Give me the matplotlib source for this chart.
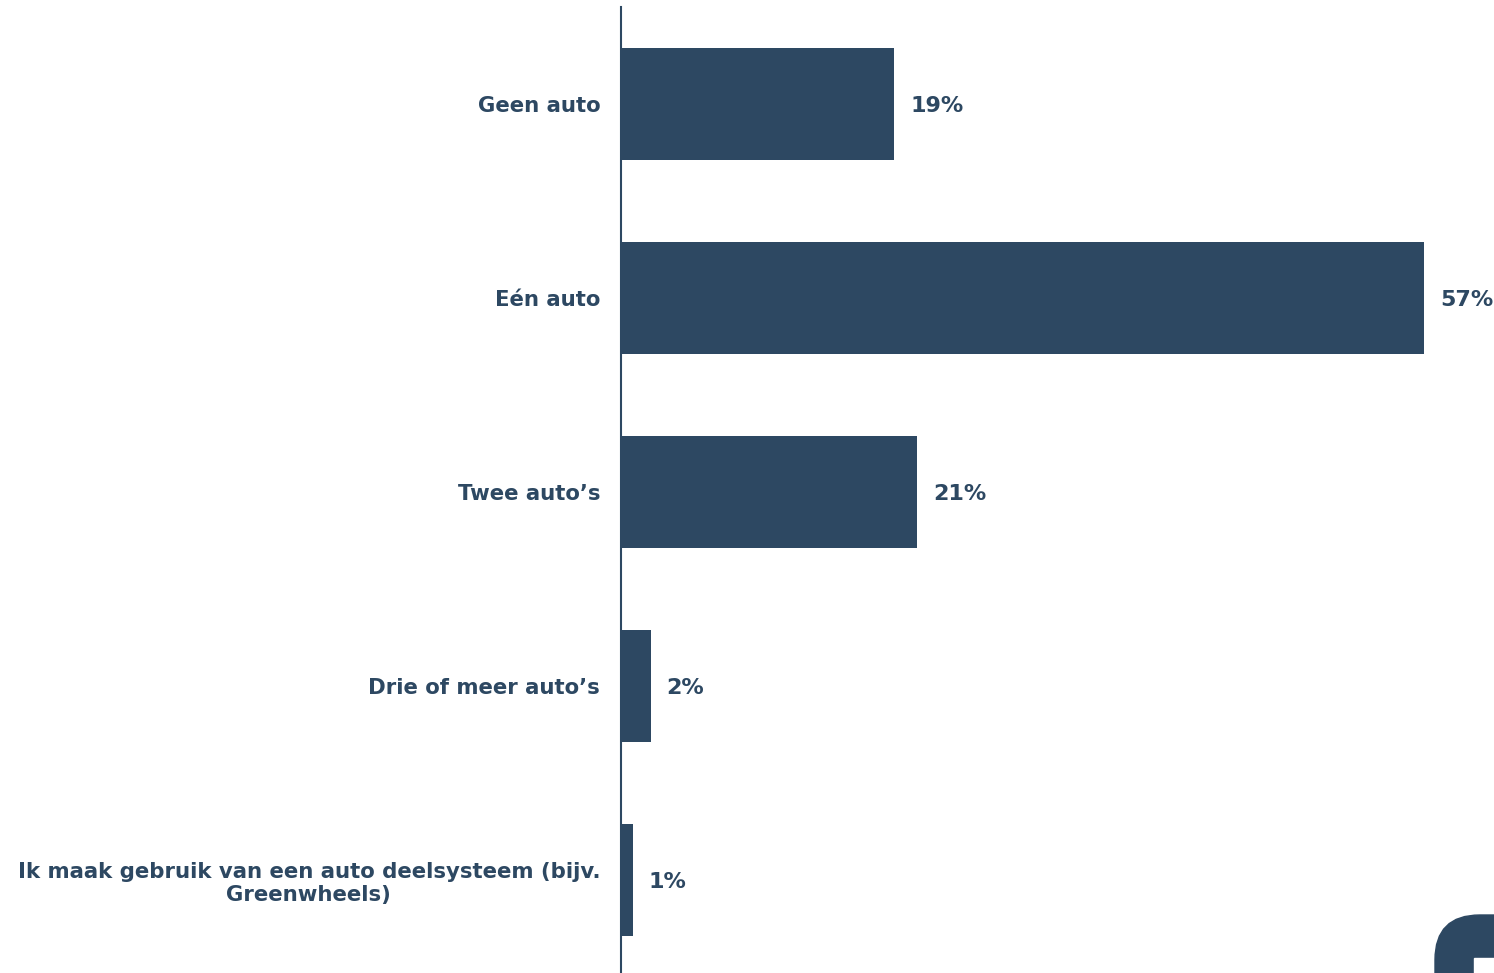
import matplotlib
matplotlib.use("Agg")
import matplotlib.pyplot as plt
from matplotlib.patches import FancyBboxPatch, Rectangle

categories = ["Geen auto", "Eén auto", "Twee auto’s", "Drie of meer auto’s",
              "Ik maak gebruik van een auto deelsysteem (bijv.\nGreenwheels)"]
values = [19.4, 57.0, 21.0, 2.1, 0.85]
value_labels = ["19%", "57%", "21%", "2%", "1%"]

color = "#2D4862"
W, H = 1494, 973
fig = plt.figure(figsize=(W / 100, H / 100), dpi=100)
ax = fig.add_axes([621 / W, 0, 1 - 621 / W, (H - 7) / H])

ypos = list(range(len(categories)))
ax.barh(ypos, values, height=0.577, color=color)
px_per_unit = 803 / 57
ax.set_xlim(0, (W - 621) / px_per_unit)
ax.set_ylim(4.48, -0.5)

ax.set_yticks(ypos)
ax.set_yticklabels(categories, fontsize=15.3, fontweight="bold", color=color,
                   multialignment="center", linespacing=1.2)
ax.tick_params(axis="y", length=0, pad=15)
ax.set_xticks([])
for s in ["top", "right", "bottom"]:
    ax.spines[s].set_visible(False)
ax.spines["left"].set_color(color)
ax.spines["left"].set_linewidth(1.5)

for y, v, lab in zip(ypos, values, value_labels):
    ax.annotate(lab, (v, y), xytext=(11.5, -1.2), textcoords="offset points",
                ha="left", va="center", fontsize=16, fontweight="bold", color=color,
                annotation_clip=False)

# corner widget
box = FancyBboxPatch((1435 / W, -0.1), 0.2, (973 - 915) / H + 0.1,
                     boxstyle="round,pad=0,rounding_size=0.03",
                     transform=fig.transFigure, color=color, clip_on=False,
                     mutation_aspect=W / H)
fig.patches.append(box)
fig.patches.append(Rectangle((1474 / W, 0), 30 / W, (973 - 958) / H,
                             transform=fig.transFigure, color="white"))

fig.savefig("out.png", dpi=100)
